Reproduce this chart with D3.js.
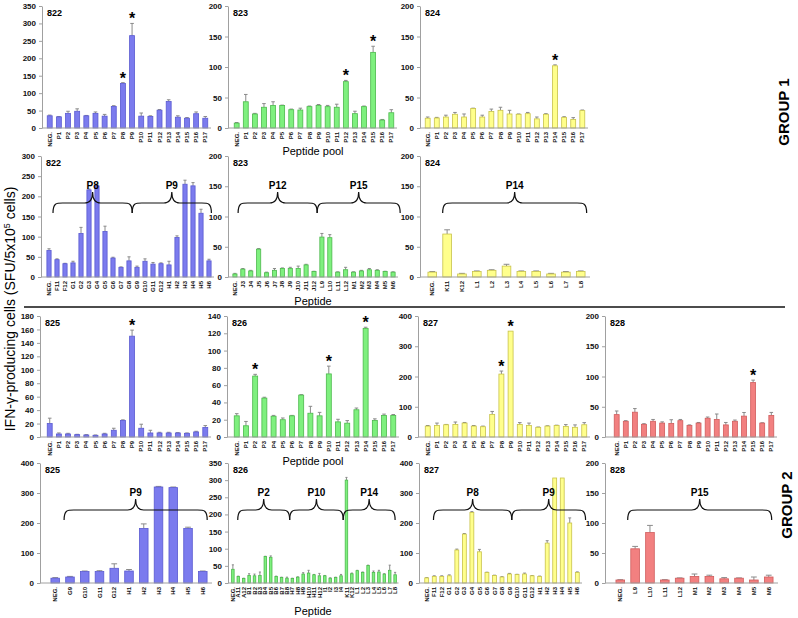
<!DOCTYPE html>
<html><head><meta charset="utf-8">
<script src="https://cdn.jsdelivr.net/npm/d3@7/dist/d3.min.js"></script>
<style>body{margin:0;background:#fff}svg{display:block}text{font-family:"Liberation Sans",Arial,sans-serif}</style>
</head><body><svg id="c" width="798" height="618"></svg>
<script>
// ---------- DATA ----------
const poolCats = ["NEG.","P1","P2","P3","P4","P5","P6","P7","P8","P9","P10","P11","P12","P13","P14","P15","P16","P17"];

const pool822 = [35,32,42,48,35,42,34,62,128,265,34,33,51,76,31,28,41,28];
const pool822Err = [2,1,6,7,1,4,5,2,2,35,9,2,2,5,4,2,5,5];
const pool823 = [8,43,23,34,37,37,30,29.5,35,37,35,34,76,23.5,35,124,13,25];
const pool823Err = [1,12,1,6,6,0.5,1,3,1,1.5,2,5,2,4,1,10,1,5];
const pool824 = [16,16.4,18,22.5,18,32,18,27,29,23,22.5,23.5,15,22.5,102,17.5,14,28.5];
const pool824Err = [2,1,3,3,5,0.5,3,4,5,6,0.5,2,3,1,1.5,1,3,1];
const pool825 = [20,4.5,4.5,3.5,3,2.5,4.5,10,24.5,150,13,6,6,6,6,5.5,7.5,14];
const pool825Err = [8,1.5,1,0.5,0.5,0.5,1,3,1,9,6,4,1,1,0.5,0.5,1,3];
const pool826 = [24.5,13,70.5,45,24,20,24.5,48.5,27.5,24.5,73,17.5,16,31.5,125.5,19,25,25];
const pool826Err = [2.5,5,2,1,1,2,0.5,0.5,8,4,9,3,3,2,1.5,2,1.5,1];
const pool827 = [36,38,40.5,41.5,46,36,34,74.5,208,350,41.5,38,32,36,38,35,32,40.5];
const pool827Err = [2,8,1,8,2,2,2,10,10,0,6,8,1,1,1,6,8,7];
const pool828 = [37,26,41,21,26,23,22.5,27,19,23,31,29,20,26,34.5,90,23,35.6];
const pool828Err = [6,1,6,1,3,2,6,2,1,1,2,9,4,2,6,4,0.5,5];

const pep822Cats = ["NEG.","F11","F12","G1","G2","G3","G4","G5","G6","G7","G8","G9","G10","G11","G12","H1","H2","H3","H4","H5","H6"];
const pep822 = [66,43,33,35,108,216,226,113,47,24,40,24,39,32,33,30,98,230,226,158,40];
const pep822Err = [4,2,1,4,15,2,4,13,2,1,10,3,6,4,2,9,4,10,8,10,4];

const pep823Cats = ["NEG.","J3","J4","J5","J6","J7","J8","J9","J10","J11","J12","L9","L10","L11","L12","M1","M2","M3","M4","M5","M6"];
const pep823 = [5,13,10,46,7,11,14,14,14,20,9,66,65,8,12,8,10,12,11,9,8];
const pep823Err = [1,1,1,1,1,3,1,2,4,1,0.5,6,5,0.5,4,0.5,1,2,1,0.5,0.5];

const pep824Cats = ["NEG.","K11","K12","L1","L2","L3","L4","L5","L6","L7","L8"];
const pep824 = [8,71,5,9,11,18,9,9,5,8,9];
const pep824Err = [1,7,1,1,1,3,1,1,1,1,1];

const pep825Cats = ["NEG.","G9","G10","G11","G12","H1","H2","H3","H4","H5","H6"];
const pep825 = [16,20,38,38,49,40,182,320,318,182,38];
const pep825Err = [2,2,2,3,15,5,15,2,2,4,2];

const pep826Cats = ["NEG.","A11","A12","B1","B2","B3","B4","B5","B6","B7","B8","H7","H8","H9","H10","H11","H12","I1","I2","I3","I4","K11","K12","L1","L2","L3","L4","L5","L6","L7","L8"];
const pep826 = [40,19,13,22,21,22,77,75,19,16,14,13,17,26,29,24,21,21,14,16,21,300,27,36,31,51,31,32,26,37,24];
const pep826Err = [13,1,1,5,5,10,1,4,1,1,3,1,1,4,8,1,7,1,1,1,4,8,2,1,1,1,4,5,1,15,7];

const pep827Cats = ["NEG.","F11","F12","G1","G2","G3","G4","G5","G6","G7","G8","G9","G10","G11","G12","H1","H2","H3","H4","H5","H6"];
const pep827 = [17,22,22,24,110,163,235,104,35,25,20,30,28,30,24,22,133,350,350,200,35];
const pep827Err = [1,2,2,3,3,2,3,8,1,1,1,2,1,3,1,1,8,0,0,17,2];

const pep828Cats = ["NEG.","L9","L10","L11","L12","M1","M2","M3","M4","M5","M6"];
const pep828 = [5,57,84,5,8,11,11,7,8,5,10];
const pep828Err = [0.5,4,12,0.5,0.5,4,2,2,0.5,5,3];

const sig822 = ["P8","P9"], sig823 = ["P12","P15"], sig824 = ["P14"];
const sig825 = ["P9"], sig826 = ["P2","P10","P14"], sig827 = ["P8","P9"], sig828 = ["P15"];

// bracket: [label, start index, end index] in category-index units
const br822 = [["P8",0.5,10.4],["P9",10.4,20.3]];
const br823 = [["P12",0.4,10.4],["P15",10.4,20.9]];
const br824 = [["P14",0.7,10.4]];
const br825 = [["P9",0.6,10.3]];
const br826 = [["P2",0.9,10.5],["P10",10.5,20.4],["P14",20.4,30]];
const br827 = [["P8",0.9,11.3],["P9",11.3,21.1]];
const br828 = [["P15",0.5,10.2]];

const yTicks350 = [0,50,100,150,200,250,300,350];
const yTicks300 = [0,50,100,150,200,250,300];
const yTicks200 = [0,50,100,150,200];
const yTicks180 = [0,20,40,60,80,100,120,140,160,180];
const yTicks140 = [0,20,40,60,80,100,120,140];
const yTicks400 = [0,100,200,300,400];

// ---------- STYLE ----------
const colors = {
  blue:{fill:"#7b7bee",stroke:"#5a5ad0"},
  green:{fill:"#7ef07e",stroke:"#4cb84c"},
  yellow:{fill:"#ffff8c",stroke:"#c8c24a"},
  red:{fill:"#f28080",stroke:"#d05c5c"}
};

const rows = [{top:6,bot:128},{top:156,bot:277},{top:316,bot:437},{top:463,bot:583}];

const panels = [
 {id:"822",row:0,ax:42,r0:44,r1:211,cats:poolCats,vals:pool822,errs:pool822Err,sig:sig822,br:[],ticks:yTicks350,c:"blue"},
 {id:"823",row:0,ax:228,r0:231,r1:397,cats:poolCats,vals:pool823,errs:pool823Err,sig:sig823,br:[],ticks:yTicks200,c:"green"},
 {id:"824",row:0,ax:420,r0:422,r1:588,cats:poolCats,vals:pool824,errs:pool824Err,sig:sig824,br:[],ticks:yTicks200,c:"yellow"},
 {id:"822",row:1,ax:41,r0:44,r1:214,cats:pep822Cats,vals:pep822,errs:pep822Err,sig:[],br:br822,ticks:yTicks300,c:"blue"},
 {id:"823",row:1,ax:228,r0:230,r1:398,cats:pep823Cats,vals:pep823,errs:pep823Err,sig:[],br:br823,ticks:yTicks200,c:"green"},
 {id:"824",row:1,ax:420,r0:423,r1:590,cats:pep824Cats,vals:pep824,errs:pep824Err,sig:[],br:br824,ticks:yTicks200,c:"yellow"},
 {id:"825",row:2,ax:40,r0:44,r1:211,cats:poolCats,vals:pool825,errs:pool825Err,sig:sig825,br:[],ticks:yTicks180,c:"blue"},
 {id:"826",row:2,ax:227,r0:231,r1:399,cats:poolCats,vals:pool826,errs:pool826Err,sig:sig826,br:[],ticks:yTicks140,c:"green"},
 {id:"827",row:2,ax:418,r0:422,r1:590,cats:poolCats,vals:pool827,errs:pool827Err,sig:sig827,br:[],ticks:yTicks400,c:"yellow"},
 {id:"828",row:2,ax:605,r0:611,r1:777,cats:poolCats,vals:pool828,errs:pool828Err,sig:sig828,br:[],ticks:yTicks200,c:"red"},
 {id:"825",row:3,ax:40,r0:46,r1:212,cats:pep825Cats,vals:pep825,errs:pep825Err,sig:[],br:br825,ticks:yTicks400,c:"blue"},
 {id:"826",row:3,ax:228,r0:229.5,r1:398.5,cats:pep826Cats,vals:pep826,errs:pep826Err,sig:[],br:br826,ticks:yTicks350,c:"green"},
 {id:"827",row:3,ax:419,r0:422,r1:582,cats:pep827Cats,vals:pep827,errs:pep827Err,sig:[],br:br827,ticks:yTicks400,c:"yellow"},
 {id:"828",row:3,ax:605,r0:611,r1:778,cats:pep828Cats,vals:pep828,errs:pep828Err,sig:[],br:br828,ticks:yTicks200,c:"red"}
];

const svg = d3.select("#c");

panels.forEach(p => {
  const R = rows[p.row];
  const g = svg.append("g");
  const x = d3.scaleBand().domain(p.cats).range([p.r0,p.r1]).paddingInner(0.35).paddingOuter(0.3);
  const ymax = p.ticks[p.ticks.length-1];
  const y = d3.scaleLinear().domain([0,ymax]).range([R.bot,R.top]);
  const bw = x.bandwidth();
  const data = p.cats.map((c,i)=>({c,v:p.vals[i],e:p.errs[i]}));
  const col = colors[p.c];

  // error bars
  const eb = g.append("g").attr("stroke","#8a8a8a").attr("stroke-width",1);
  data.filter(d=>d.e>0).forEach(d=>{
    const cx = x(d.c)+bw/2;
    eb.append("line").attr("x1",cx).attr("x2",cx).attr("y1",y(d.v)).attr("y2",y(d.v+d.e));
    eb.append("line").attr("x1",cx-bw*0.3).attr("x2",cx+bw*0.3).attr("y1",y(d.v+d.e)).attr("y2",y(d.v+d.e));
  });

  // bars
  g.append("g").selectAll("rect").data(data).join("rect")
    .attr("x",d=>x(d.c)+0.5).attr("y",d=>y(d.v))
    .attr("width",bw-1).attr("height",d=>R.bot-y(d.v))
    .attr("fill",col.fill).attr("stroke",col.stroke).attr("stroke-width",0.8);

  // y axis
  const ya = g.append("g").attr("transform",`translate(${p.ax},0)`)
    .call(d3.axisLeft(y).tickValues(p.ticks).tickSize(3).tickSizeOuter(0).tickPadding(3));
  ya.select(".domain").attr("stroke","#a0a0a0");
  ya.selectAll(".tick line").attr("stroke","#a0a0a0");
  ya.selectAll(".tick text").attr("font-size",8).attr("font-weight","bold").attr("fill","#111")
    .style("font-family","'Liberation Sans',Arial,sans-serif");

  // x axis
  const xa = g.append("g").attr("transform",`translate(0,${R.bot})`)
    .call(d3.axisBottom(x).tickSize(0).tickSizeOuter(0));
  xa.select(".domain").attr("stroke","#a0a0a0").attr("d",`M${p.ax},0H${p.r1}`);
  xa.selectAll(".tick text")
    .attr("font-size",6).attr("font-weight","bold").attr("fill","#111")
    .style("font-family","'Liberation Sans',Arial,sans-serif")
    .attr("transform","rotate(-90)").attr("text-anchor","end")
    .attr("x",-4).attr("y",0).attr("dy","0.35em");

  // panel id
  g.append("text").attr("x",p.ax+5).attr("y",R.top+10).attr("font-size",9)
    .attr("font-weight","bold").text(p.id);

  // significance stars
  data.filter(d=>p.sig.includes(d.c)).forEach(d=>{
    g.append("text").attr("x",x(d.c)+bw/2).attr("y",y(d.v+d.e)+1)
      .attr("text-anchor","middle").attr("font-size",16).attr("font-weight","bold").text("*");
  });

  // brackets
  const idx = i => x(p.cats[0]) + bw/2 + i*x.step();
  const yEnd = R.top+57, yMid = R.top+47, yPeak = R.top+36;
  p.br.forEach(b=>{
    const x1 = idx(b[1]), x2 = idx(b[2]), xc = (x1+x2)/2;
    const path = `M${x1},${yEnd} C${x1},${yMid-1} ${x1+4},${yMid} ${x1+12},${yMid}`+
      ` L${xc-8},${yMid} C${xc-3},${yMid} ${xc},${yMid-3} ${xc},${yPeak}`+
      ` C${xc},${yMid-3} ${xc+3},${yMid} ${xc+8},${yMid}`+
      ` L${x2-12},${yMid} C${x2-4},${yMid} ${x2},${yMid-1} ${x2},${yEnd}`;
    g.append("path").attr("d",path).attr("fill","none").attr("stroke","#111").attr("stroke-width",1.2);
    g.append("text").attr("x",xc).attr("y",R.top+33).attr("text-anchor","middle")
      .attr("font-size",10).attr("font-weight","bold").text(b[0]);
  });
});

// axis titles
const titles = [["Peptide pool",151],["Peptide",301],["Peptide pool",461],["Peptide",611]];
titles.forEach(t=>{
  svg.append("text").attr("x",313).attr("y",t[1]).attr("dy","0.35em").attr("text-anchor","middle")
    .attr("font-size",11).text(t[0]);
});

const yt = svg.append("text").attr("transform","translate(10,309) rotate(-90)")
  .attr("text-anchor","middle").attr("dy","0.35em").attr("font-size",14);
yt.append("tspan").text("IFN-γ-producing cells (SFU/5x10");
yt.append("tspan").attr("baseline-shift","super").attr("font-size",9).text("5");
yt.append("tspan").text(" cells)");

svg.append("text").attr("transform","translate(784,112) rotate(-90)").attr("text-anchor","middle")
  .attr("dy","0.35em").attr("font-size",15).attr("font-weight","bold").text("GROUP 1");
svg.append("text").attr("transform","translate(787,505) rotate(-90)").attr("text-anchor","middle")
  .attr("dy","0.35em").attr("font-size",15).attr("font-weight","bold").text("GROUP 2");

svg.append("line").attr("x1",24).attr("x2",785).attr("y1",307).attr("y2",307)
  .attr("stroke","#111").attr("stroke-width",1.5);
</script></body></html>
